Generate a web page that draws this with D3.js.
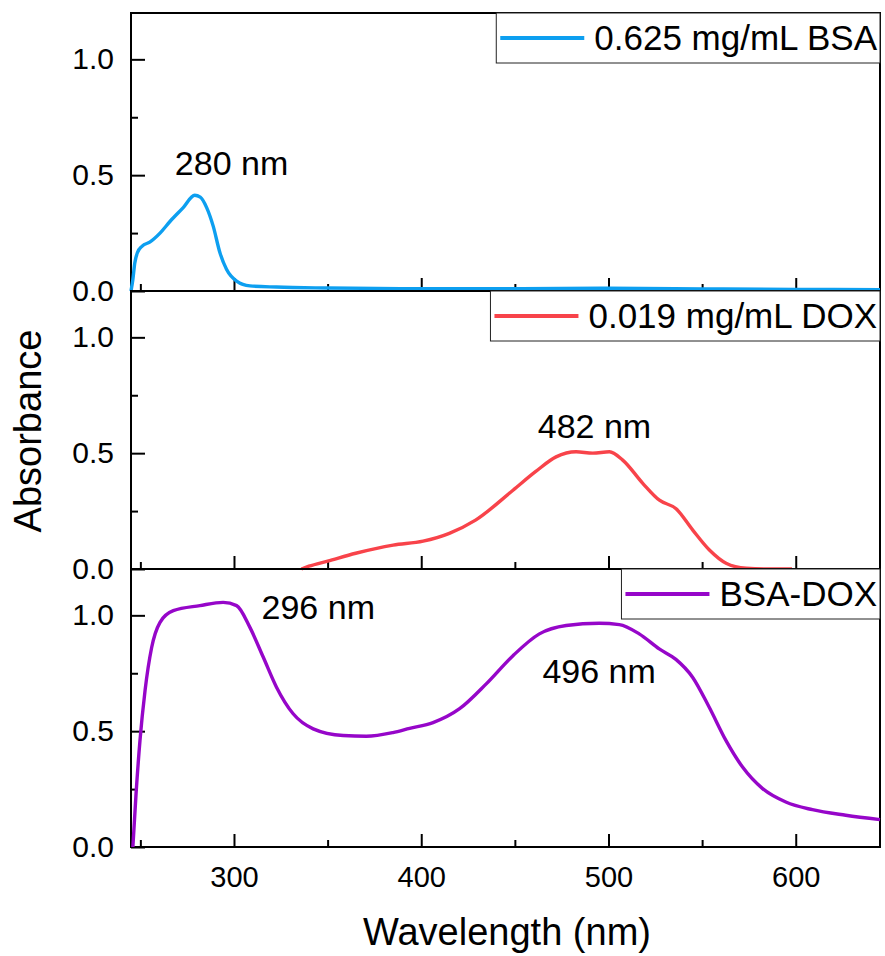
<!DOCTYPE html>
<html lang="en">
<head>
<meta charset="UTF-8">
<title>Absorbance spectra</title>
<script src="https://d3js.org/d3.v7.min.js"></script>
<style>
  body { margin: 0; background: #fff; }
  svg { display: block; font-family: "Liberation Sans", Arial, sans-serif; }
</style>
</head>
<body>
<div id="chart"></div>
<script>
// series names and colours
var seriesNames = ["0.625 mg/mL BSA", "0.019 mg/mL DOX", "BSA-DOX"];
var seriesColors = ["#0d9ff0", "#f8434a", "#9606c9"];

// 0.625 mg/mL BSA
var bsaWl  = [245, 246, 247, 248.4, 251, 255, 260.5, 265.8, 272.9, 279, 282, 285.4, 288.9, 292.5, 296, 301.4, 308.5, 322.7, 350, 400, 450, 500, 550, 600, 645];
var bsaAbs = [0.0, 0.05, 0.12, 0.165, 0.194, 0.211, 0.25, 0.30, 0.36, 0.413, 0.405, 0.36, 0.28, 0.165, 0.094, 0.043, 0.022, 0.017, 0.013, 0.01, 0.01, 0.012, 0.009, 0.007, 0.006];

// 0.019 mg/mL DOX
var doxWl  = [336, 340, 350, 365, 385, 401, 415, 429, 449, 461, 472, 482.7, 491.6, 500.5, 507.6, 518.3, 527.2, 536.1, 545, 553.9, 562.8, 573.5, 585, 598];
var doxAbs = [0.0, 0.012, 0.034, 0.068, 0.103, 0.12, 0.154, 0.211, 0.34, 0.42, 0.484, 0.506, 0.50, 0.506, 0.47, 0.37, 0.297, 0.26, 0.168, 0.082, 0.025, 0.003, 0.0, 0.0];

// BSA-DOX
var mixWl  = [246, 247.7, 249.8, 252.5, 256, 260.5, 267.6, 281.8, 294.2, 301.4, 308.5, 315.6, 322.7, 331.6, 342.3, 358.3, 370.7, 384.9, 393.8, 406.3, 420.5, 434.7, 449, 463.1, 477.4, 495.1, 505.8, 516.4, 527.1, 536, 544.9, 553.8, 562.7, 571.6, 582.3, 594.7, 608.9, 626.7, 645];
var mixAbs = [0.0, 0.23, 0.46, 0.675, 0.86, 0.97, 1.02, 1.042, 1.056, 1.042, 0.948, 0.82, 0.69, 0.575, 0.51, 0.481, 0.478, 0.494, 0.512, 0.537, 0.597, 0.704, 0.826, 0.92, 0.956, 0.966, 0.96, 0.92, 0.855, 0.81, 0.733, 0.603, 0.46, 0.345, 0.252, 0.194, 0.161, 0.137, 0.118];

// peak labels: panel, wavelength, absorbance where the label sits
var peakLabels = ["280 nm", "482 nm", "296 nm", "496 nm"];
var peakPanel  = [0, 1, 2, 2];
var peakWl     = [298.7, 492.5, 345, 495];
var peakAbs    = [0.5, 0.565, 0.986, 0.706];

// tick values
var xMajor = [300, 400, 500, 600];
var xMinor = [250, 350, 450, 550];
var yMajor = [0, 0.5, 1.0];
var yMinor = [0.25, 0.75];

var wavelengths = [bsaWl, doxWl, mixWl];
var absorbances = [bsaAbs, doxAbs, mixAbs];

var W = 885, H = 956;
var left = 131, right = 880, top0 = 13, panelH = 278;

var svg = d3.select("#chart").append("svg")
    .attr("width", W)
    .attr("height", H);

var x = d3.scaleLinear().domain([245, 645]).range([left, right]);

for (var p = 0; p < 3; p++) {
    var py = top0 + p * panelH;
    var y = d3.scaleLinear().domain([0, 1.2]).range([py + panelH, py]);
    var g = svg.append("g");

    // y axis ticks (inside), labels on the left
    g.append("g")
        .attr("transform", "translate(" + left + ",0)")
        .call(d3.axisLeft(y).tickValues(yMajor).tickFormat(d3.format(".1f"))
            .tickSizeInner(-14).tickSizeOuter(0).tickPadding(17))
        .call(function(a) {
            a.select(".domain").remove();
            a.selectAll("line").attr("stroke", "#000").attr("stroke-width", 2);
            a.selectAll("text").style("font-size", "30px").attr("fill", "#000");
        });
    g.append("g")
        .attr("transform", "translate(" + left + ",0)")
        .call(d3.axisLeft(y).tickValues(yMinor).tickFormat("").tickSizeInner(-7).tickSizeOuter(0))
        .call(function(a) {
            a.select(".domain").remove();
            a.selectAll("line").attr("stroke", "#000").attr("stroke-width", 2);
        });

    // x axis ticks (inside); labels only on the bottom panel
    var xb = d3.axisBottom(x).tickValues(xMajor).tickSizeInner(-13).tickSizeOuter(0).tickPadding(19);
    if (p < 2) xb.tickFormat("");
    g.append("g")
        .attr("transform", "translate(0," + (py + panelH) + ")")
        .call(xb)
        .call(function(a) {
            a.select(".domain").remove();
            a.selectAll("line").attr("stroke", "#000").attr("stroke-width", 2);
            a.selectAll("text").style("font-size", "29px").attr("fill", "#000");
        });
    g.append("g")
        .attr("transform", "translate(0," + (py + panelH) + ")")
        .call(d3.axisBottom(x).tickValues(xMinor).tickFormat("").tickSizeInner(-7).tickSizeOuter(0))
        .call(function(a) {
            a.select(".domain").remove();
            a.selectAll("line").attr("stroke", "#000").attr("stroke-width", 2);
        });

    // frame
    g.append("rect")
        .attr("x", left).attr("y", py)
        .attr("width", right - left).attr("height", panelH)
        .attr("fill", "none").attr("stroke", "#000").attr("stroke-width", 2);

    // curve
    var pts = wavelengths[p].map(function(w, i) { return [w, absorbances[p][i]]; });
    var line = d3.line()
        .x(function(d) { return x(d[0]); })
        .y(function(d) { return y(d[1]); })
        .curve(d3.curveMonotoneX);
    g.append("path")
        .datum(pts)
        .attr("d", line)
        .attr("fill", "none")
        .attr("stroke", seriesColors[p])
        .attr("stroke-width", 3.4)
        .attr("stroke-linejoin", "round");

    // legend, right aligned at the panel's top right corner
    var leg = g.append("g");
    var lt = leg.append("text")
        .attr("x", right - 3)
        .attr("y", py + 25)
        .attr("dy", "0.35em")
        .attr("text-anchor", "end")
        .style("font-size", "35px")
        .text(seriesNames[p]);
    var tx = right - 3 - lt.node().getComputedTextLength();
    leg.append("line")
        .attr("x1", tx - 94).attr("x2", tx - 10)
        .attr("y1", py + 25).attr("y2", py + 25)
        .attr("stroke", seriesColors[p]).attr("stroke-width", 4);
    leg.insert("rect", "text")
        .attr("x", tx - 98).attr("y", py)
        .attr("width", right - (tx - 98)).attr("height", 50)
        .attr("fill", "#fff").attr("stroke", "#222").attr("stroke-width", 1);

    // peak labels
    peakLabels.forEach(function(t, i) {
        if (peakPanel[i] !== p) return;
        g.append("text")
            .attr("x", x(peakWl[i]))
            .attr("y", y(peakAbs[i]))
            .attr("text-anchor", "middle")
            .style("font-size", "34px")
            .text(t);
    });
}

// axis titles
svg.append("text")
    .attr("transform", "translate(41,431) rotate(-90)")
    .attr("text-anchor", "middle")
    .style("font-size", "38px")
    .text("Absorbance");

svg.append("text")
    .attr("x", 507)
    .attr("y", 945)
    .attr("text-anchor", "middle")
    .style("font-size", "38px")
    .text("Wavelength (nm)");
</script>
</body>
</html>
